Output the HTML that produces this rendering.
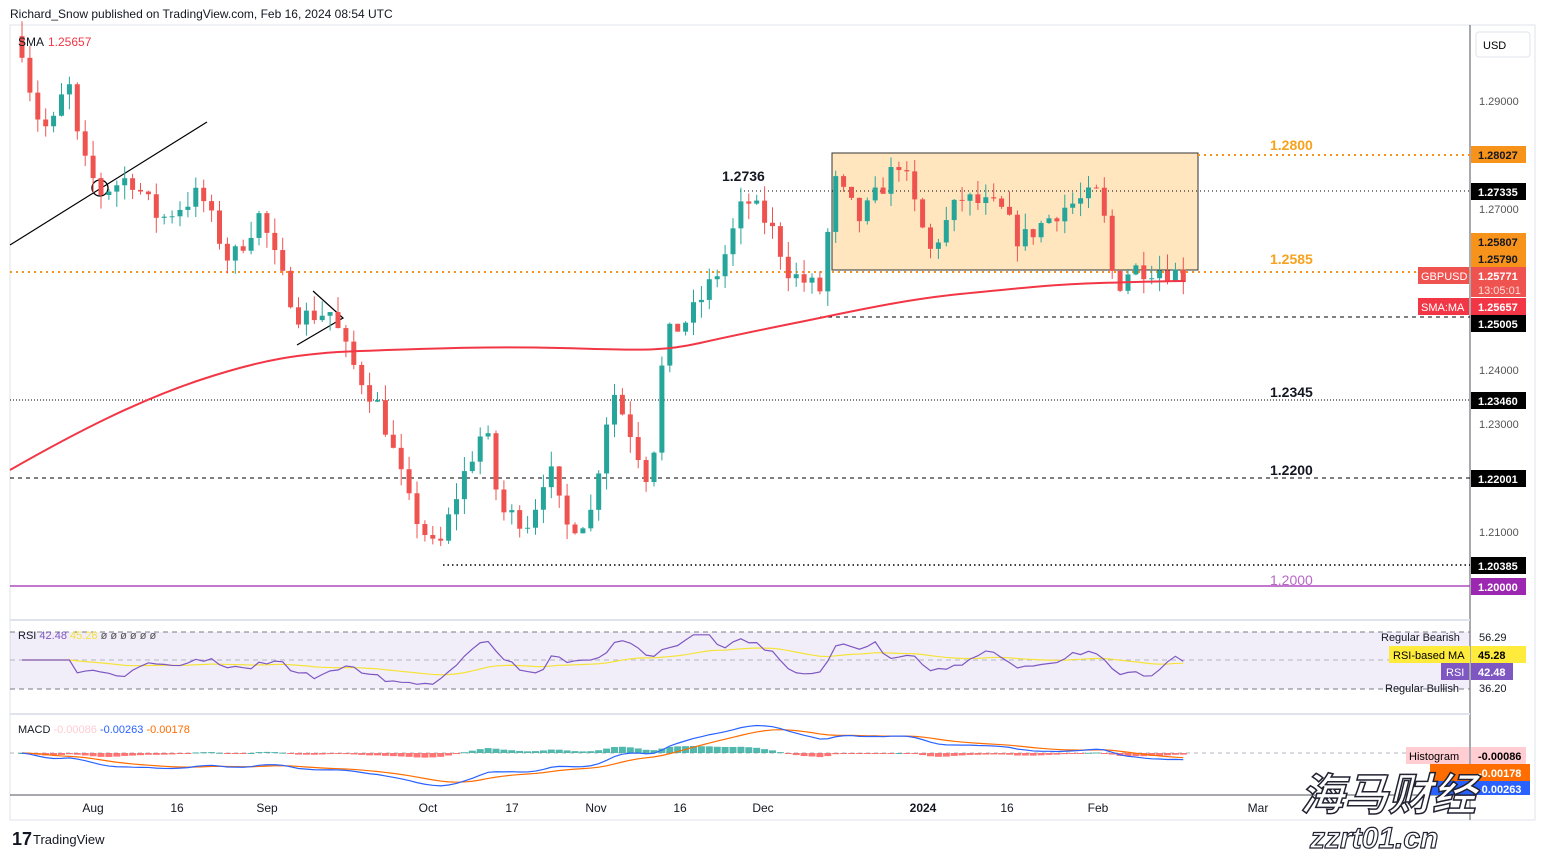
<!DOCTYPE html><html><head><meta charset="utf-8"><style>
body{margin:0;background:#fff;font-family:"Liberation Sans",sans-serif;}
svg{display:block}
</style></head><body>
<svg id="s" width="1546" height="857" xmlns="http://www.w3.org/2000/svg" font-family="Liberation Sans, sans-serif">
<rect width="1546" height="857" fill="#fff"/>
<text x="10" y="18" font-size="12" fill="#131722">Richard_Snow published on TradingView.com, Feb 16, 2024 08:54 UTC</text>
<rect x="10" y="25" width="1525" height="795" fill="none" stroke="#e0e3eb"/>
<line x1="1470" y1="25" x2="1470" y2="820" stroke="#50535e"/>
<line x1="10" y1="620" x2="1470" y2="620" stroke="#e0e3eb" stroke-width="2"/>
<line x1="10" y1="714" x2="1470" y2="714" stroke="#e0e3eb" stroke-width="2"/>
<line x1="10" y1="795" x2="1470" y2="795" stroke="#50535e"/>
<rect x="832" y="153" width="366" height="117" fill="#ffe6bf" stroke="#333" stroke-width="1"/>
<line x1="10" y1="272" x2="1470" y2="272" stroke="#f7931a" stroke-width="2" stroke-dasharray="2,4"/>
<line x1="1198" y1="155" x2="1470" y2="155" stroke="#f7931a" stroke-width="2" stroke-dasharray="2,4"/>
<line x1="740" y1="191" x2="1470" y2="191" stroke="#000" stroke-dasharray="1,3"/>
<line x1="820" y1="317" x2="1470" y2="317" stroke="#000" stroke-dasharray="4,4"/>
<line x1="10" y1="400" x2="1470" y2="400" stroke="#000" stroke-dasharray="1,2"/>
<line x1="10" y1="478" x2="1470" y2="478" stroke="#000" stroke-dasharray="4,4"/>
<line x1="443" y1="565" x2="1470" y2="565" stroke="#000" stroke-width="1.5" stroke-dasharray="1.5,3"/>
<line x1="10" y1="586" x2="1470" y2="586" stroke="#9c27b0" stroke-width="1.2"/>
<line x1="10" y1="245" x2="207" y2="122" stroke="#000" stroke-width="1.2"/>
<circle cx="100" cy="188" r="8" fill="none" stroke="#000" stroke-width="1.3"/>
<polyline points="313,291 343,318 297,345" fill="none" stroke="#000" stroke-width="1.2"/>
<g font-size="14" font-weight="bold">
<text x="722" y="181" fill="#131722">1.2736</text>
<text x="1270" y="150" fill="#f7a21c">1.2800</text>
<text x="1270" y="264" fill="#f7a21c">1.2585</text>
<text x="1270" y="397" fill="#131722">1.2345</text>
<text x="1270" y="475" fill="#131722">1.2200</text>
<text x="1270" y="585" fill="#ba68c8" font-weight="normal">1.2000</text>
</g>
<g id="candles"></g>
<path d="M10,470 C80,430 140,400 200,380 S300,353 360,351 S480,346 560,348 S660,352 700,343 S760,330 800,322 S900,300 960,294 S1060,284 1100,283 S1160,281 1185,281" fill="none" stroke="#f23645" stroke-width="2"/>
<text x="18" y="46" font-size="12" fill="#131722">SMA</text><text x="48" y="46" font-size="12" fill="#f23645">1.25657</text>
<rect x="10" y="632" width="1460" height="57" fill="#7e57c2" fill-opacity="0.1"/>
<line x1="10" y1="632" x2="1470" y2="632" stroke="#787b86" stroke-dasharray="5,4"/>
<line x1="10" y1="660" x2="1470" y2="660" stroke="#b2b5be" stroke-dasharray="5,4"/>
<line x1="10" y1="689" x2="1470" y2="689" stroke="#787b86" stroke-dasharray="5,4"/>
<g id="rsi"></g>
<text x="18" y="639" font-size="11" fill="#131722">RSI <tspan fill="#7e57c2">42.48</tspan> <tspan fill="#f5e33a">45.28</tspan> <tspan fill="#555">ø ø ø ø ø ø</tspan></text>
<line x1="10" y1="753" x2="1470" y2="753" stroke="#b2b5be" stroke-dasharray="4,4"/>
<g id="macd"></g>
<text x="18" y="733" font-size="11" fill="#131722">MACD <tspan fill="#ffcdd2">-0.00086</tspan> <tspan fill="#2962ff">-0.00263</tspan> <tspan fill="#ff6d00">-0.00178</tspan></text>
<g font-size="11" fill="#131722">
<text x="1479" y="105" fill="#555">1.29000</text><text x="1479" y="213" fill="#555">1.27000</text>
<text x="1479" y="374" fill="#555">1.24000</text><text x="1479" y="428" fill="#555">1.23000</text><text x="1479" y="536" fill="#555">1.21000</text>
</g>
<rect x="1476" y="32" width="54" height="25" rx="3" fill="#fff" stroke="#e0e3eb"/><text x="1483" y="49" font-size="11">USD</text>
<g font-size="11" font-weight="bold">
<rect x="1471" y="146" width="55" height="17" fill="#f7931a"/><text x="1478" y="159" fill="#131722">1.28027</text>
<rect x="1471" y="183" width="55" height="17" fill="#000"/><text x="1478" y="196" fill="#fff">1.27335</text>
<rect x="1471" y="233" width="55" height="34" fill="#f7931a"/><text x="1478" y="246" fill="#131722">1.25807</text><text x="1478" y="263" fill="#131722">1.25790</text>
<rect x="1471" y="267" width="55" height="30" fill="#ef5350"/><text x="1478" y="280" fill="#fff">1.25771</text><text x="1478" y="294" fill="#fdd" font-weight="normal">13:05:01</text>
<rect x="1418" y="267" width="51" height="17" fill="#ef5350"/><text x="1421" y="280" fill="#fff" font-weight="normal">GBPUSD</text>
<rect x="1471" y="298" width="55" height="17" fill="#f23645"/><text x="1478" y="311" fill="#fff">1.25657</text>
<rect x="1418" y="298" width="51" height="17" fill="#f23645"/><text x="1421" y="311" fill="#fff" font-weight="normal">SMA:MA</text>
<rect x="1471" y="315" width="55" height="17" fill="#000"/><text x="1478" y="328" fill="#fff">1.25005</text>
<rect x="1471" y="392" width="55" height="17" fill="#000"/><text x="1478" y="405" fill="#fff">1.23460</text>
<rect x="1471" y="470" width="55" height="17" fill="#000"/><text x="1478" y="483" fill="#fff">1.22001</text>
<rect x="1471" y="557" width="55" height="17" fill="#000"/><text x="1478" y="570" fill="#fff">1.20385</text>
<rect x="1471" y="578" width="55" height="17" fill="#9c27b0"/><text x="1478" y="591" fill="#fff">1.20000</text>
<rect x="1389" y="646" width="81" height="17" fill="#ffeb3b"/><text x="1393" y="659" font-weight="normal">RSI-based MA</text>
<rect x="1471" y="646" width="55" height="17" fill="#ffeb3b"/><text x="1478" y="659">45.28</text>
<rect x="1441" y="663" width="28" height="17" fill="#7e57c2"/><text x="1446" y="676" fill="#fff" font-weight="normal">RSI</text>
<rect x="1471" y="663" width="42" height="17" fill="#7e57c2"/><text x="1478" y="676" fill="#fff">42.48</text>
<rect x="1406" y="747" width="63" height="17" fill="#ffcdd2"/><text x="1409" y="760" font-weight="normal">Histogram</text>
<rect x="1471" y="747" width="55" height="17" fill="#ffcdd2"/><text x="1478" y="760">-0.00086</text>
<rect x="1430" y="764" width="100" height="17" fill="#ff6d00"/><text x="1478" y="777" fill="#fff">-0.00178</text>
<rect x="1430" y="781" width="100" height="14" fill="#2962ff"/><text x="1478" y="793" fill="#fff">-0.00263</text>
</g>
<g font-size="11" fill="#131722">
<text x="1381" y="641">Regular Bearish</text><text x="1479" y="641">56.29</text>
<text x="1385" y="692">Regular Bullish</text><text x="1479" y="692">36.20</text>
</g>
<g font-size="12" fill="#131722" text-anchor="middle">
<text x="93" y="812">Aug</text><text x="177" y="812">16</text><text x="267" y="812">Sep</text><text x="428" y="812">Oct</text>
<text x="512" y="812">17</text><text x="596" y="812">Nov</text><text x="680" y="812">16</text><text x="763" y="812">Dec</text>
<text x="923" y="812" font-weight="bold">2024</text><text x="1007" y="812">16</text><text x="1098" y="812">Feb</text><text x="1258" y="812">Mar</text>
</g>
<text x="12" y="845" font-size="18" font-weight="bold" fill="#131722">17</text>
<text x="33" y="844" font-size="13" fill="#131722">TradingView</text>
<text x="1300" y="810" font-size="44" font-style="italic" font-weight="bold" fill="#fff" stroke="#223" stroke-width="1.5" font-family="Noto Sans CJK SC, sans-serif">海马财经</text>
<text x="1310" y="848" font-size="30" font-style="italic" font-weight="bold" fill="#fff" stroke="#223" stroke-width="1.2">zzrt01.cn</text>
</svg>
<script>
function Y(p){return 101+(1.29-p)*5400;}
var A=[[22,1.300],[35,1.288],[50,1.284],[68,1.294],[80,1.280],[100,1.273],[130,1.276],[160,1.268],[200,1.273],[230,1.260],[260,1.269],[280,1.258],[300,1.250],[330,1.251],[350,1.242],[380,1.233],[410,1.215],[437,1.206],[460,1.219],[485,1.230],[500,1.214],[530,1.212],[548,1.223],[565,1.211],[590,1.213],[612,1.237],[630,1.229],[650,1.219],[665,1.246],[690,1.250],[720,1.259],[745,1.272],[770,1.267],[790,1.258],[820,1.255],[835,1.275],[860,1.268],[900,1.279],[930,1.262],[960,1.272],[1000,1.270],[1020,1.264],[1060,1.270],[1100,1.273],[1115,1.255],[1130,1.259],[1160,1.259],[1185,1.2577]];
function interp(x){for(var i=0;i<A.length-1;i++){if(x<=A[i+1][0]){var t=(x-A[i][0])/(A[i+1][0]-A[i][0]);return A[i][1]+t*(A[i+1][1]-A[i][1]);}}return A[A.length-1][1];}
var seed=7;function r(){seed=(seed*16807)%2147483647;return seed/2147483647;}
var g=document.getElementById("candles"),h="";var prev=interp(22)+0.002;var closes=[];
for(var x=22;x<=1185;x+=7.9){var c=interp(x)+(r()-0.5)*0.004;var o=prev;var hi=Math.max(o,c)+r()*0.003;var lo=Math.min(o,c)-r()*0.003;
var col=c>=o?"#26a69a":"#ef5350";var y1=Y(Math.max(o,c)),y2=Y(Math.min(o,c));if(y2-y1<1)y2=y1+1;
h+='<line x1="'+x+'" y1="'+Y(hi)+'" x2="'+x+'" y2="'+Y(lo)+'" stroke="'+col+'"/><rect x="'+(x-2.5)+'" y="'+y1+'" width="5" height="'+(y2-y1)+'" fill="'+col+'"/>';prev=c;closes.push([x,c]);}
g.innerHTML=h;
var pts=[],ma=[],m=50;for(var i=0;i<closes.length;i++){var d=i>6?closes[i][1]-closes[i-7][1]:0;var v=50+d*900;v=Math.max(26,Math.min(74,v));pts.push(closes[i][0]+","+(660-(v-50)*1.05));m=m*0.93+v*0.07;ma.push(closes[i][0]+","+(660-(m-50)*1.05));}
document.getElementById("rsi").innerHTML='<polyline points="'+ma.join(" ")+'" fill="none" stroke="#f5e33a" stroke-width="1.2"/><polyline points="'+pts.join(" ")+'" fill="none" stroke="#7e57c2" stroke-width="1.2"/>';
var e12=closes[0][1],e26=closes[0][1],sg=0,mp=[],sp=[],hb="",K=2300;for(var i=0;i<closes.length;i++){var c=closes[i][1];e12+=(c-e12)*2/13;e26+=(c-e26)*2/27;var mc=e12-e26;sg+=(mc-sg)*2/10;var x=closes[i][0];
mp.push(x+","+(753-mc*K));sp.push(x+","+(753-sg*K));var hv=(mc-sg)*K*0.8;var col=hv>=0?"#26a69a":"#ff5252";
hb+='<rect x="'+(x-3.5)+'" y="'+(hv>=0?753-hv:753)+'" width="7" height="'+Math.max(1,Math.abs(hv))+'" fill="'+col+'" fill-opacity="0.8"/>';}
document.getElementById("macd").innerHTML=hb+'<polyline points="'+sp.join(" ")+'" fill="none" stroke="#ff6d00" stroke-width="1.2"/><polyline points="'+mp.join(" ")+'" fill="none" stroke="#2962ff" stroke-width="1.2"/>';
</script>
</body></html>
